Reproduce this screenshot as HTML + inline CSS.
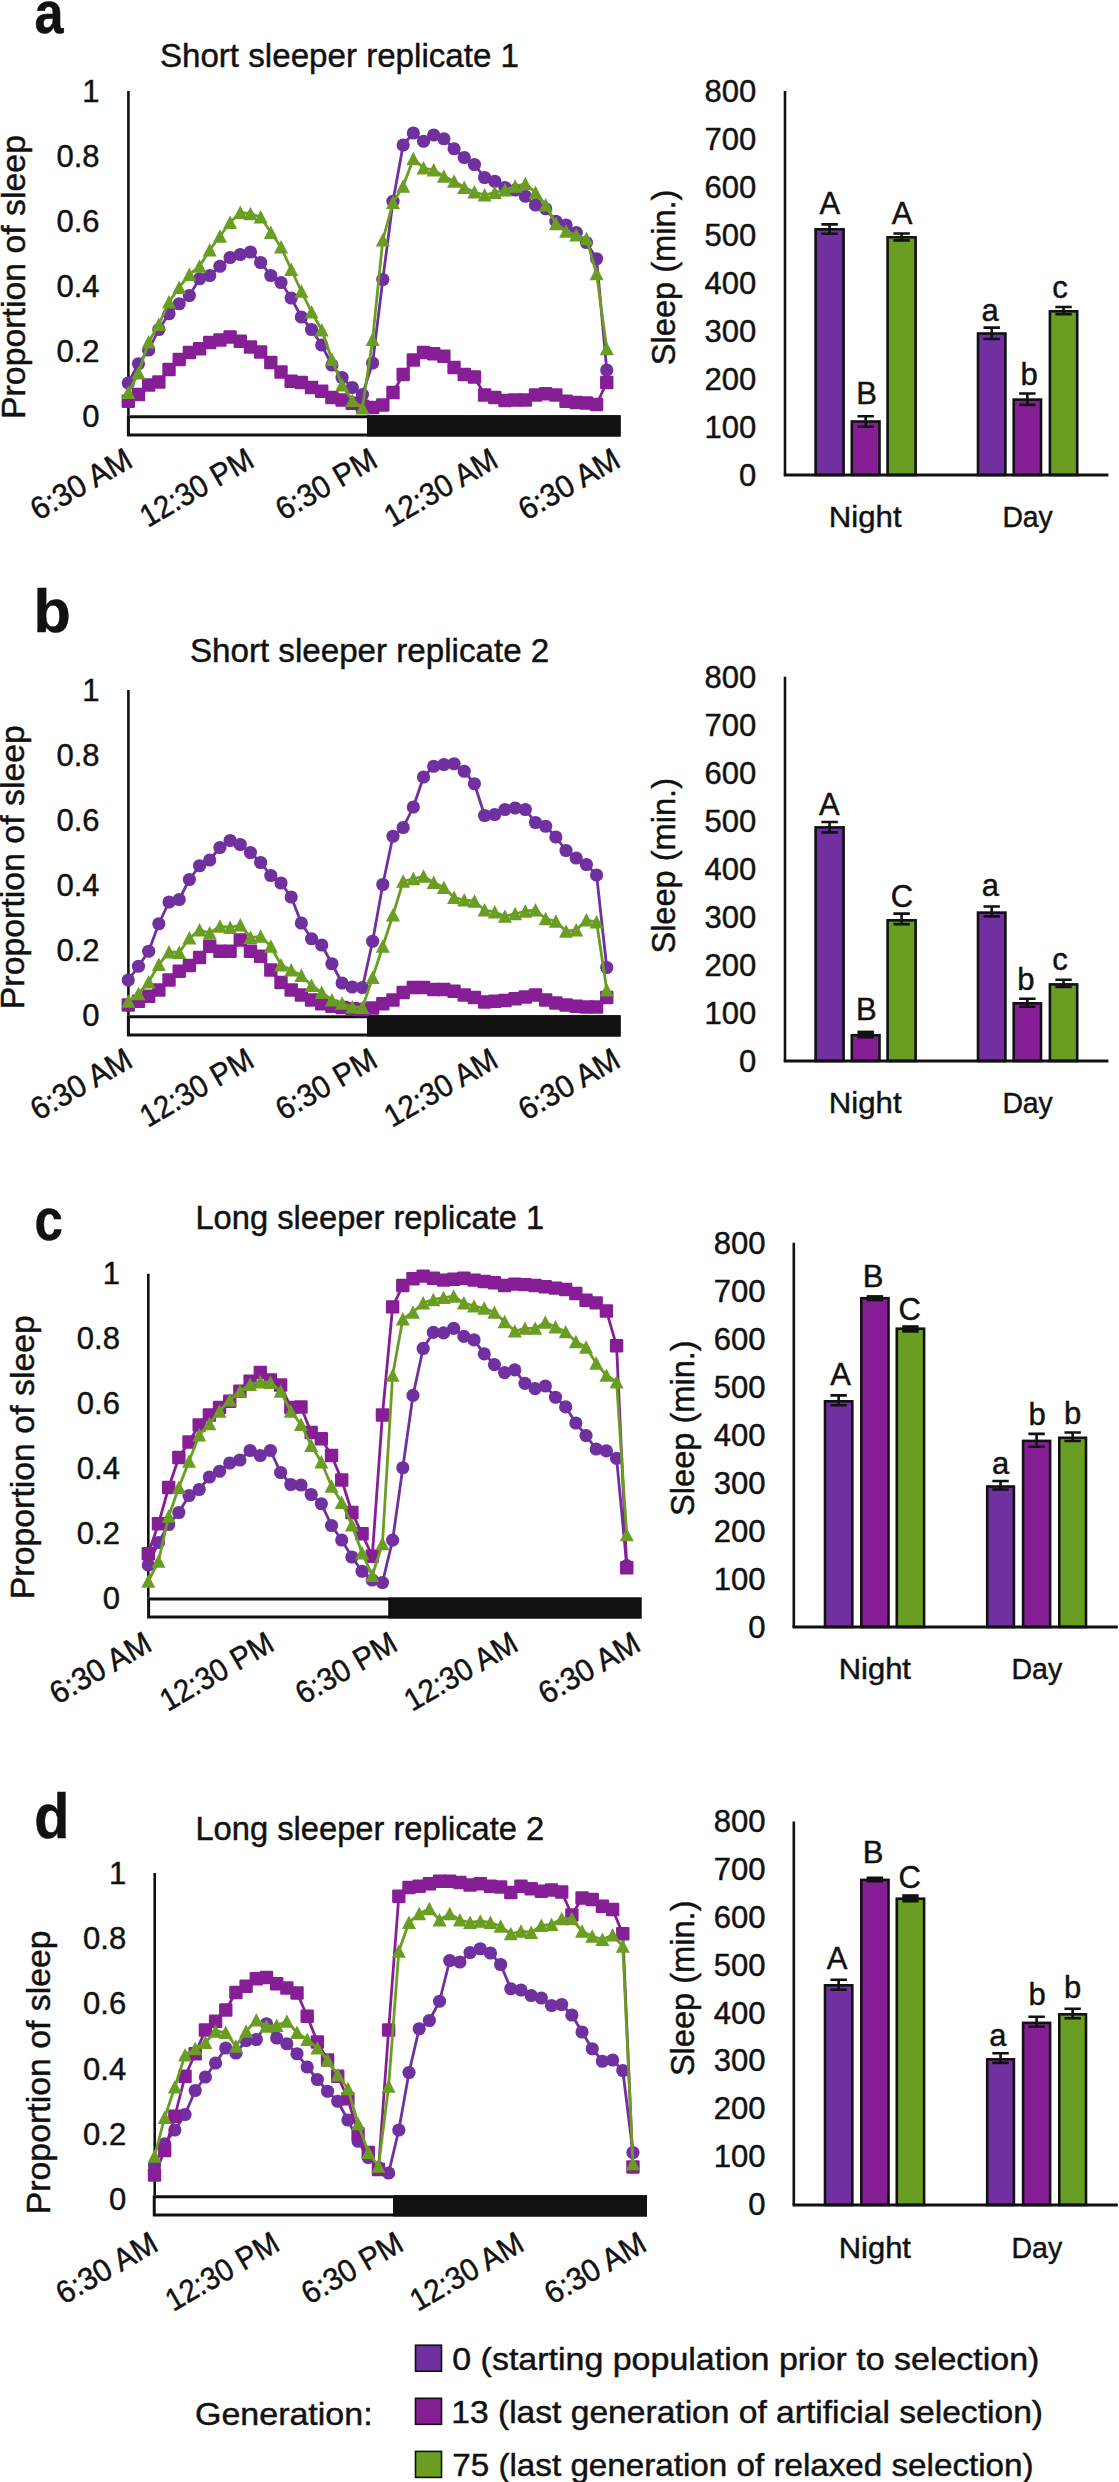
<!DOCTYPE html>
<html><head><meta charset="utf-8"><title>Sleep figure</title>
<style>
html,body{margin:0;padding:0;background:#fff;overflow:hidden;}
svg{display:block;}
text{font-family:"Liberation Sans", sans-serif;fill:#111111;stroke:#111111;stroke-width:0.45px;}
</style></head>
<body>
<svg width="1119" height="2482" viewBox="0 0 1119 2482">
<rect width="1119" height="2482" fill="#fff"/>
<line x1="128.4" y1="90.9" x2="128.4" y2="415.25" stroke="#111111" stroke-width="2.6"/>
<text x="99.60" y="102.40" font-size="31" text-anchor="end">1</text>
<text x="99.60" y="167.40" font-size="31" text-anchor="end">0.8</text>
<text x="99.60" y="232.40" font-size="31" text-anchor="end">0.6</text>
<text x="99.60" y="297.40" font-size="31" text-anchor="end">0.4</text>
<text x="99.60" y="362.40" font-size="31" text-anchor="end">0.2</text>
<text x="99.60" y="427.40" font-size="31" text-anchor="end">0</text>
<rect x="128.40" y="416.75" width="490.70" height="18.25" fill="#fff" stroke="#111111" stroke-width="3.0"/>
<rect x="367.00" y="415.25" width="253.60" height="21.25" fill="#111111"/>
<polyline points="128.30,383.00 138.48,363.75 148.66,350.00 158.84,329.50 169.02,313.75 179.20,303.75 189.38,295.50 199.56,278.75 209.74,275.50 219.92,266.25 230.10,257.50 240.28,254.50 250.46,252.00 260.64,262.50 270.82,275.50 281.00,282.50 291.18,298.00 301.36,317.00 311.54,329.50 321.72,345.00 331.90,365.00 342.08,377.50 352.26,387.50 362.44,394.50 372.62,363.00 382.80,279.50 392.98,201.25 403.16,145.00 413.34,133.00 423.52,141.25 433.70,135.00 443.88,138.75 454.06,148.75 464.24,157.50 474.42,164.50 484.60,177.50 494.78,181.25 504.96,187.50 515.14,190.00 525.32,196.25 535.50,205.00 545.68,208.75 555.86,221.25 566.04,225.00 576.22,232.50 586.40,242.50 596.58,258.75 606.76,370.00" fill="none" stroke="#7030A0" stroke-width="2.8" stroke-linejoin="round"/>
<g fill="#7030A0"><circle cx="128.30" cy="383.00" r="6.60"/><circle cx="138.48" cy="363.75" r="6.60"/><circle cx="148.66" cy="350.00" r="6.60"/><circle cx="158.84" cy="329.50" r="6.60"/><circle cx="169.02" cy="313.75" r="6.60"/><circle cx="179.20" cy="303.75" r="6.60"/><circle cx="189.38" cy="295.50" r="6.60"/><circle cx="199.56" cy="278.75" r="6.60"/><circle cx="209.74" cy="275.50" r="6.60"/><circle cx="219.92" cy="266.25" r="6.60"/><circle cx="230.10" cy="257.50" r="6.60"/><circle cx="240.28" cy="254.50" r="6.60"/><circle cx="250.46" cy="252.00" r="6.60"/><circle cx="260.64" cy="262.50" r="6.60"/><circle cx="270.82" cy="275.50" r="6.60"/><circle cx="281.00" cy="282.50" r="6.60"/><circle cx="291.18" cy="298.00" r="6.60"/><circle cx="301.36" cy="317.00" r="6.60"/><circle cx="311.54" cy="329.50" r="6.60"/><circle cx="321.72" cy="345.00" r="6.60"/><circle cx="331.90" cy="365.00" r="6.60"/><circle cx="342.08" cy="377.50" r="6.60"/><circle cx="352.26" cy="387.50" r="6.60"/><circle cx="362.44" cy="394.50" r="6.60"/><circle cx="372.62" cy="363.00" r="6.60"/><circle cx="382.80" cy="279.50" r="6.60"/><circle cx="392.98" cy="201.25" r="6.60"/><circle cx="403.16" cy="145.00" r="6.60"/><circle cx="413.34" cy="133.00" r="6.60"/><circle cx="423.52" cy="141.25" r="6.60"/><circle cx="433.70" cy="135.00" r="6.60"/><circle cx="443.88" cy="138.75" r="6.60"/><circle cx="454.06" cy="148.75" r="6.60"/><circle cx="464.24" cy="157.50" r="6.60"/><circle cx="474.42" cy="164.50" r="6.60"/><circle cx="484.60" cy="177.50" r="6.60"/><circle cx="494.78" cy="181.25" r="6.60"/><circle cx="504.96" cy="187.50" r="6.60"/><circle cx="515.14" cy="190.00" r="6.60"/><circle cx="525.32" cy="196.25" r="6.60"/><circle cx="535.50" cy="205.00" r="6.60"/><circle cx="545.68" cy="208.75" r="6.60"/><circle cx="555.86" cy="221.25" r="6.60"/><circle cx="566.04" cy="225.00" r="6.60"/><circle cx="576.22" cy="232.50" r="6.60"/><circle cx="586.40" cy="242.50" r="6.60"/><circle cx="596.58" cy="258.75" r="6.60"/><circle cx="606.76" cy="370.00" r="6.60"/></g>
<polyline points="128.30,401.25 138.48,394.50 148.66,385.00 158.84,382.00 169.02,369.50 179.20,359.50 189.38,352.50 199.56,348.75 209.74,342.50 219.92,340.00 230.10,337.00 240.28,341.25 250.46,347.00 260.64,352.00 270.82,362.50 281.00,372.00 291.18,381.25 301.36,382.50 311.54,387.50 321.72,391.25 331.90,397.50 342.08,400.00 352.26,403.25 362.44,406.25 372.62,407.50 382.80,405.00 392.98,392.50 403.16,374.50 413.34,360.00 423.52,352.50 433.70,353.75 443.88,356.25 454.06,367.50 464.24,374.50 474.42,377.00 484.60,395.00 494.78,397.50 504.96,400.50 515.14,400.00 525.32,400.00 535.50,395.00 545.68,393.75 555.86,395.00 566.04,401.25 576.22,402.50 586.40,403.00 596.58,404.50 606.76,382.50" fill="none" stroke="#861F96" stroke-width="2.8" stroke-linejoin="round"/>
<g fill="#861F96"><rect x="121.60" y="394.55" width="13.4" height="13.4" rx="1.2"/><rect x="131.78" y="387.80" width="13.4" height="13.4" rx="1.2"/><rect x="141.96" y="378.30" width="13.4" height="13.4" rx="1.2"/><rect x="152.14" y="375.30" width="13.4" height="13.4" rx="1.2"/><rect x="162.32" y="362.80" width="13.4" height="13.4" rx="1.2"/><rect x="172.50" y="352.80" width="13.4" height="13.4" rx="1.2"/><rect x="182.68" y="345.80" width="13.4" height="13.4" rx="1.2"/><rect x="192.86" y="342.05" width="13.4" height="13.4" rx="1.2"/><rect x="203.04" y="335.80" width="13.4" height="13.4" rx="1.2"/><rect x="213.22" y="333.30" width="13.4" height="13.4" rx="1.2"/><rect x="223.40" y="330.30" width="13.4" height="13.4" rx="1.2"/><rect x="233.58" y="334.55" width="13.4" height="13.4" rx="1.2"/><rect x="243.76" y="340.30" width="13.4" height="13.4" rx="1.2"/><rect x="253.94" y="345.30" width="13.4" height="13.4" rx="1.2"/><rect x="264.12" y="355.80" width="13.4" height="13.4" rx="1.2"/><rect x="274.30" y="365.30" width="13.4" height="13.4" rx="1.2"/><rect x="284.48" y="374.55" width="13.4" height="13.4" rx="1.2"/><rect x="294.66" y="375.80" width="13.4" height="13.4" rx="1.2"/><rect x="304.84" y="380.80" width="13.4" height="13.4" rx="1.2"/><rect x="315.02" y="384.55" width="13.4" height="13.4" rx="1.2"/><rect x="325.20" y="390.80" width="13.4" height="13.4" rx="1.2"/><rect x="335.38" y="393.30" width="13.4" height="13.4" rx="1.2"/><rect x="345.56" y="396.55" width="13.4" height="13.4" rx="1.2"/><rect x="355.74" y="399.55" width="13.4" height="13.4" rx="1.2"/><rect x="365.92" y="400.80" width="13.4" height="13.4" rx="1.2"/><rect x="376.10" y="398.30" width="13.4" height="13.4" rx="1.2"/><rect x="386.28" y="385.80" width="13.4" height="13.4" rx="1.2"/><rect x="396.46" y="367.80" width="13.4" height="13.4" rx="1.2"/><rect x="406.64" y="353.30" width="13.4" height="13.4" rx="1.2"/><rect x="416.82" y="345.80" width="13.4" height="13.4" rx="1.2"/><rect x="427.00" y="347.05" width="13.4" height="13.4" rx="1.2"/><rect x="437.18" y="349.55" width="13.4" height="13.4" rx="1.2"/><rect x="447.36" y="360.80" width="13.4" height="13.4" rx="1.2"/><rect x="457.54" y="367.80" width="13.4" height="13.4" rx="1.2"/><rect x="467.72" y="370.30" width="13.4" height="13.4" rx="1.2"/><rect x="477.90" y="388.30" width="13.4" height="13.4" rx="1.2"/><rect x="488.08" y="390.80" width="13.4" height="13.4" rx="1.2"/><rect x="498.26" y="393.80" width="13.4" height="13.4" rx="1.2"/><rect x="508.44" y="393.30" width="13.4" height="13.4" rx="1.2"/><rect x="518.62" y="393.30" width="13.4" height="13.4" rx="1.2"/><rect x="528.80" y="388.30" width="13.4" height="13.4" rx="1.2"/><rect x="538.98" y="387.05" width="13.4" height="13.4" rx="1.2"/><rect x="549.16" y="388.30" width="13.4" height="13.4" rx="1.2"/><rect x="559.34" y="394.55" width="13.4" height="13.4" rx="1.2"/><rect x="569.52" y="395.80" width="13.4" height="13.4" rx="1.2"/><rect x="579.70" y="396.30" width="13.4" height="13.4" rx="1.2"/><rect x="589.88" y="397.80" width="13.4" height="13.4" rx="1.2"/><rect x="600.06" y="375.80" width="13.4" height="13.4" rx="1.2"/></g>
<polyline points="128.30,392.50 138.48,373.00 148.66,342.00 158.84,324.50 169.02,302.00 179.20,287.50 189.38,274.50 199.56,266.25 209.74,250.00 219.92,236.25 230.10,222.50 240.28,212.50 250.46,213.75 260.64,217.00 270.82,232.50 281.00,247.00 291.18,269.50 301.36,291.25 311.54,312.00 321.72,330.00 331.90,359.50 342.08,385.00 352.26,400.50 362.44,408.00 372.62,339.50 382.80,240.00 392.98,202.50 403.16,186.25 413.34,158.75 423.52,168.00 433.70,170.00 443.88,176.25 454.06,181.25 464.24,187.50 474.42,192.00 484.60,195.00 494.78,192.50 504.96,190.00 515.14,186.25 525.32,183.75 535.50,192.50 545.68,205.00 555.86,223.75 566.04,231.25 576.22,235.00 586.40,238.75 596.58,273.75 606.76,348.75" fill="none" stroke="#6A9E23" stroke-width="2.8" stroke-linejoin="round"/>
<g fill="#6A9E23"><path d="M128.30,385.60L135.30,399.00L121.30,399.00Z"/><path d="M138.48,366.10L145.48,379.50L131.48,379.50Z"/><path d="M148.66,335.10L155.66,348.50L141.66,348.50Z"/><path d="M158.84,317.60L165.84,331.00L151.84,331.00Z"/><path d="M169.02,295.10L176.02,308.50L162.02,308.50Z"/><path d="M179.20,280.60L186.20,294.00L172.20,294.00Z"/><path d="M189.38,267.60L196.38,281.00L182.38,281.00Z"/><path d="M199.56,259.35L206.56,272.75L192.56,272.75Z"/><path d="M209.74,243.10L216.74,256.50L202.74,256.50Z"/><path d="M219.92,229.35L226.92,242.75L212.92,242.75Z"/><path d="M230.10,215.60L237.10,229.00L223.10,229.00Z"/><path d="M240.28,205.60L247.28,219.00L233.28,219.00Z"/><path d="M250.46,206.85L257.46,220.25L243.46,220.25Z"/><path d="M260.64,210.10L267.64,223.50L253.64,223.50Z"/><path d="M270.82,225.60L277.82,239.00L263.82,239.00Z"/><path d="M281.00,240.10L288.00,253.50L274.00,253.50Z"/><path d="M291.18,262.60L298.18,276.00L284.18,276.00Z"/><path d="M301.36,284.35L308.36,297.75L294.36,297.75Z"/><path d="M311.54,305.10L318.54,318.50L304.54,318.50Z"/><path d="M321.72,323.10L328.72,336.50L314.72,336.50Z"/><path d="M331.90,352.60L338.90,366.00L324.90,366.00Z"/><path d="M342.08,378.10L349.08,391.50L335.08,391.50Z"/><path d="M352.26,393.60L359.26,407.00L345.26,407.00Z"/><path d="M362.44,401.10L369.44,414.50L355.44,414.50Z"/><path d="M372.62,332.60L379.62,346.00L365.62,346.00Z"/><path d="M382.80,233.10L389.80,246.50L375.80,246.50Z"/><path d="M392.98,195.60L399.98,209.00L385.98,209.00Z"/><path d="M403.16,179.35L410.16,192.75L396.16,192.75Z"/><path d="M413.34,151.85L420.34,165.25L406.34,165.25Z"/><path d="M423.52,161.10L430.52,174.50L416.52,174.50Z"/><path d="M433.70,163.10L440.70,176.50L426.70,176.50Z"/><path d="M443.88,169.35L450.88,182.75L436.88,182.75Z"/><path d="M454.06,174.35L461.06,187.75L447.06,187.75Z"/><path d="M464.24,180.60L471.24,194.00L457.24,194.00Z"/><path d="M474.42,185.10L481.42,198.50L467.42,198.50Z"/><path d="M484.60,188.10L491.60,201.50L477.60,201.50Z"/><path d="M494.78,185.60L501.78,199.00L487.78,199.00Z"/><path d="M504.96,183.10L511.96,196.50L497.96,196.50Z"/><path d="M515.14,179.35L522.14,192.75L508.14,192.75Z"/><path d="M525.32,176.85L532.32,190.25L518.32,190.25Z"/><path d="M535.50,185.60L542.50,199.00L528.50,199.00Z"/><path d="M545.68,198.10L552.68,211.50L538.68,211.50Z"/><path d="M555.86,216.85L562.86,230.25L548.86,230.25Z"/><path d="M566.04,224.35L573.04,237.75L559.04,237.75Z"/><path d="M576.22,228.10L583.22,241.50L569.22,241.50Z"/><path d="M586.40,231.85L593.40,245.25L579.40,245.25Z"/><path d="M596.58,266.85L603.58,280.25L589.58,280.25Z"/><path d="M606.76,341.85L613.76,355.25L599.76,355.25Z"/></g>
<text x="134.50" y="465.60" font-size="31.5" text-anchor="end" textLength="111.00" lengthAdjust="spacingAndGlyphs" transform="rotate(-30 134.50 465.60)">6:30 AM</text>
<text x="256.00" y="465.60" font-size="31.5" text-anchor="end" textLength="125.00" lengthAdjust="spacingAndGlyphs" transform="rotate(-30 256.00 465.60)">12:30 PM</text>
<text x="379.60" y="465.60" font-size="31.5" text-anchor="end" textLength="111.00" lengthAdjust="spacingAndGlyphs" transform="rotate(-30 379.60 465.60)">6:30 PM</text>
<text x="500.20" y="465.60" font-size="31.5" text-anchor="end" textLength="125.00" lengthAdjust="spacingAndGlyphs" transform="rotate(-30 500.20 465.60)">12:30 AM</text>
<text x="622.40" y="465.60" font-size="31.5" text-anchor="end" textLength="111.00" lengthAdjust="spacingAndGlyphs" transform="rotate(-30 622.40 465.60)">6:30 AM</text>
<text x="24.70" y="419.00" font-size="34" text-anchor="start" textLength="284.00" lengthAdjust="spacingAndGlyphs" transform="rotate(-90 24.70 419.00)">Proportion of sleep</text>
<text x="159.90" y="67.00" font-size="33" text-anchor="start" textLength="359.10" lengthAdjust="spacingAndGlyphs">Short sleeper replicate 1</text>
<line x1="128.4" y1="690" x2="128.4" y2="1015.25" stroke="#111111" stroke-width="2.6"/>
<text x="99.60" y="700.90" font-size="31" text-anchor="end">1</text>
<text x="99.60" y="765.90" font-size="31" text-anchor="end">0.8</text>
<text x="99.60" y="830.90" font-size="31" text-anchor="end">0.6</text>
<text x="99.60" y="895.90" font-size="31" text-anchor="end">0.4</text>
<text x="99.60" y="960.90" font-size="31" text-anchor="end">0.2</text>
<text x="99.60" y="1025.90" font-size="31" text-anchor="end">0</text>
<rect x="128.40" y="1016.75" width="490.70" height="18.25" fill="#fff" stroke="#111111" stroke-width="3.0"/>
<rect x="367.00" y="1015.25" width="253.60" height="21.25" fill="#111111"/>
<polyline points="128.30,980.00 138.48,966.25 148.66,951.25 158.84,923.75 169.02,902.00 179.20,899.50 189.38,879.50 199.56,865.75 209.74,860.00 219.92,847.50 230.10,840.50 240.28,844.50 250.46,852.50 260.64,862.50 270.82,875.50 281.00,883.00 291.18,897.00 301.36,923.00 311.54,938.75 321.72,945.00 331.90,963.75 342.08,983.00 352.26,987.00 362.44,987.50 372.62,941.25 382.80,884.50 392.98,836.25 403.16,827.50 413.34,807.00 423.52,777.00 433.70,766.25 443.88,764.50 454.06,763.75 464.24,771.25 474.42,783.75 484.60,815.50 494.78,814.50 504.96,809.50 515.14,808.00 525.32,809.50 535.50,822.50 545.68,826.25 555.86,837.00 566.04,850.50 576.22,858.00 586.40,864.50 596.58,875.00 606.76,967.50" fill="none" stroke="#7030A0" stroke-width="2.8" stroke-linejoin="round"/>
<g fill="#7030A0"><circle cx="128.30" cy="980.00" r="6.60"/><circle cx="138.48" cy="966.25" r="6.60"/><circle cx="148.66" cy="951.25" r="6.60"/><circle cx="158.84" cy="923.75" r="6.60"/><circle cx="169.02" cy="902.00" r="6.60"/><circle cx="179.20" cy="899.50" r="6.60"/><circle cx="189.38" cy="879.50" r="6.60"/><circle cx="199.56" cy="865.75" r="6.60"/><circle cx="209.74" cy="860.00" r="6.60"/><circle cx="219.92" cy="847.50" r="6.60"/><circle cx="230.10" cy="840.50" r="6.60"/><circle cx="240.28" cy="844.50" r="6.60"/><circle cx="250.46" cy="852.50" r="6.60"/><circle cx="260.64" cy="862.50" r="6.60"/><circle cx="270.82" cy="875.50" r="6.60"/><circle cx="281.00" cy="883.00" r="6.60"/><circle cx="291.18" cy="897.00" r="6.60"/><circle cx="301.36" cy="923.00" r="6.60"/><circle cx="311.54" cy="938.75" r="6.60"/><circle cx="321.72" cy="945.00" r="6.60"/><circle cx="331.90" cy="963.75" r="6.60"/><circle cx="342.08" cy="983.00" r="6.60"/><circle cx="352.26" cy="987.00" r="6.60"/><circle cx="362.44" cy="987.50" r="6.60"/><circle cx="372.62" cy="941.25" r="6.60"/><circle cx="382.80" cy="884.50" r="6.60"/><circle cx="392.98" cy="836.25" r="6.60"/><circle cx="403.16" cy="827.50" r="6.60"/><circle cx="413.34" cy="807.00" r="6.60"/><circle cx="423.52" cy="777.00" r="6.60"/><circle cx="433.70" cy="766.25" r="6.60"/><circle cx="443.88" cy="764.50" r="6.60"/><circle cx="454.06" cy="763.75" r="6.60"/><circle cx="464.24" cy="771.25" r="6.60"/><circle cx="474.42" cy="783.75" r="6.60"/><circle cx="484.60" cy="815.50" r="6.60"/><circle cx="494.78" cy="814.50" r="6.60"/><circle cx="504.96" cy="809.50" r="6.60"/><circle cx="515.14" cy="808.00" r="6.60"/><circle cx="525.32" cy="809.50" r="6.60"/><circle cx="535.50" cy="822.50" r="6.60"/><circle cx="545.68" cy="826.25" r="6.60"/><circle cx="555.86" cy="837.00" r="6.60"/><circle cx="566.04" cy="850.50" r="6.60"/><circle cx="576.22" cy="858.00" r="6.60"/><circle cx="586.40" cy="864.50" r="6.60"/><circle cx="596.58" cy="875.00" r="6.60"/><circle cx="606.76" cy="967.50" r="6.60"/></g>
<polyline points="128.30,1005.00 138.48,1001.25 148.66,996.25 158.84,990.00 169.02,980.00 179.20,971.25 189.38,965.50 199.56,957.50 209.74,946.25 219.92,951.25 230.10,951.25 240.28,940.00 250.46,951.25 260.64,956.25 270.82,970.00 281.00,982.50 291.18,990.00 301.36,995.00 311.54,1000.00 321.72,1003.75 331.90,1006.25 342.08,1007.50 352.26,1008.75 362.44,1009.50 372.62,1008.00 382.80,1003.75 392.98,1000.00 403.16,992.50 413.34,987.50 423.52,987.50 433.70,989.50 443.88,989.50 454.06,991.25 464.24,995.00 474.42,997.50 484.60,1002.00 494.78,1001.25 504.96,1000.50 515.14,998.75 525.32,997.00 535.50,995.00 545.68,1000.00 555.86,1003.00 566.04,1005.00 576.22,1006.25 586.40,1007.00 596.58,1007.00 606.76,997.50" fill="none" stroke="#861F96" stroke-width="2.8" stroke-linejoin="round"/>
<g fill="#861F96"><rect x="121.60" y="998.30" width="13.4" height="13.4" rx="1.2"/><rect x="131.78" y="994.55" width="13.4" height="13.4" rx="1.2"/><rect x="141.96" y="989.55" width="13.4" height="13.4" rx="1.2"/><rect x="152.14" y="983.30" width="13.4" height="13.4" rx="1.2"/><rect x="162.32" y="973.30" width="13.4" height="13.4" rx="1.2"/><rect x="172.50" y="964.55" width="13.4" height="13.4" rx="1.2"/><rect x="182.68" y="958.80" width="13.4" height="13.4" rx="1.2"/><rect x="192.86" y="950.80" width="13.4" height="13.4" rx="1.2"/><rect x="203.04" y="939.55" width="13.4" height="13.4" rx="1.2"/><rect x="213.22" y="944.55" width="13.4" height="13.4" rx="1.2"/><rect x="223.40" y="944.55" width="13.4" height="13.4" rx="1.2"/><rect x="233.58" y="933.30" width="13.4" height="13.4" rx="1.2"/><rect x="243.76" y="944.55" width="13.4" height="13.4" rx="1.2"/><rect x="253.94" y="949.55" width="13.4" height="13.4" rx="1.2"/><rect x="264.12" y="963.30" width="13.4" height="13.4" rx="1.2"/><rect x="274.30" y="975.80" width="13.4" height="13.4" rx="1.2"/><rect x="284.48" y="983.30" width="13.4" height="13.4" rx="1.2"/><rect x="294.66" y="988.30" width="13.4" height="13.4" rx="1.2"/><rect x="304.84" y="993.30" width="13.4" height="13.4" rx="1.2"/><rect x="315.02" y="997.05" width="13.4" height="13.4" rx="1.2"/><rect x="325.20" y="999.55" width="13.4" height="13.4" rx="1.2"/><rect x="335.38" y="1000.80" width="13.4" height="13.4" rx="1.2"/><rect x="345.56" y="1002.05" width="13.4" height="13.4" rx="1.2"/><rect x="355.74" y="1002.80" width="13.4" height="13.4" rx="1.2"/><rect x="365.92" y="1001.30" width="13.4" height="13.4" rx="1.2"/><rect x="376.10" y="997.05" width="13.4" height="13.4" rx="1.2"/><rect x="386.28" y="993.30" width="13.4" height="13.4" rx="1.2"/><rect x="396.46" y="985.80" width="13.4" height="13.4" rx="1.2"/><rect x="406.64" y="980.80" width="13.4" height="13.4" rx="1.2"/><rect x="416.82" y="980.80" width="13.4" height="13.4" rx="1.2"/><rect x="427.00" y="982.80" width="13.4" height="13.4" rx="1.2"/><rect x="437.18" y="982.80" width="13.4" height="13.4" rx="1.2"/><rect x="447.36" y="984.55" width="13.4" height="13.4" rx="1.2"/><rect x="457.54" y="988.30" width="13.4" height="13.4" rx="1.2"/><rect x="467.72" y="990.80" width="13.4" height="13.4" rx="1.2"/><rect x="477.90" y="995.30" width="13.4" height="13.4" rx="1.2"/><rect x="488.08" y="994.55" width="13.4" height="13.4" rx="1.2"/><rect x="498.26" y="993.80" width="13.4" height="13.4" rx="1.2"/><rect x="508.44" y="992.05" width="13.4" height="13.4" rx="1.2"/><rect x="518.62" y="990.30" width="13.4" height="13.4" rx="1.2"/><rect x="528.80" y="988.30" width="13.4" height="13.4" rx="1.2"/><rect x="538.98" y="993.30" width="13.4" height="13.4" rx="1.2"/><rect x="549.16" y="996.30" width="13.4" height="13.4" rx="1.2"/><rect x="559.34" y="998.30" width="13.4" height="13.4" rx="1.2"/><rect x="569.52" y="999.55" width="13.4" height="13.4" rx="1.2"/><rect x="579.70" y="1000.30" width="13.4" height="13.4" rx="1.2"/><rect x="589.88" y="1000.30" width="13.4" height="13.4" rx="1.2"/><rect x="600.06" y="990.80" width="13.4" height="13.4" rx="1.2"/></g>
<polyline points="128.30,1001.25 138.48,993.75 148.66,982.00 158.84,964.50 169.02,952.00 179.20,952.50 189.38,938.00 199.56,930.00 209.74,933.00 219.92,926.25 230.10,927.50 240.28,925.00 250.46,937.50 260.64,936.25 270.82,946.25 281.00,965.00 291.18,970.00 301.36,975.50 311.54,985.50 321.72,992.50 331.90,1000.00 342.08,1003.25 352.26,1007.00 362.44,1007.50 372.62,977.50 382.80,946.25 392.98,915.00 403.16,881.25 413.34,878.75 423.52,876.25 433.70,882.50 443.88,887.50 454.06,897.50 464.24,900.00 474.42,901.25 484.60,910.00 494.78,912.00 504.96,916.25 515.14,913.75 525.32,911.25 535.50,910.00 545.68,918.75 555.86,921.25 566.04,931.25 576.22,930.00 586.40,920.00 596.58,922.00 606.76,990.00" fill="none" stroke="#6A9E23" stroke-width="2.8" stroke-linejoin="round"/>
<g fill="#6A9E23"><path d="M128.30,994.35L135.30,1007.75L121.30,1007.75Z"/><path d="M138.48,986.85L145.48,1000.25L131.48,1000.25Z"/><path d="M148.66,975.10L155.66,988.50L141.66,988.50Z"/><path d="M158.84,957.60L165.84,971.00L151.84,971.00Z"/><path d="M169.02,945.10L176.02,958.50L162.02,958.50Z"/><path d="M179.20,945.60L186.20,959.00L172.20,959.00Z"/><path d="M189.38,931.10L196.38,944.50L182.38,944.50Z"/><path d="M199.56,923.10L206.56,936.50L192.56,936.50Z"/><path d="M209.74,926.10L216.74,939.50L202.74,939.50Z"/><path d="M219.92,919.35L226.92,932.75L212.92,932.75Z"/><path d="M230.10,920.60L237.10,934.00L223.10,934.00Z"/><path d="M240.28,918.10L247.28,931.50L233.28,931.50Z"/><path d="M250.46,930.60L257.46,944.00L243.46,944.00Z"/><path d="M260.64,929.35L267.64,942.75L253.64,942.75Z"/><path d="M270.82,939.35L277.82,952.75L263.82,952.75Z"/><path d="M281.00,958.10L288.00,971.50L274.00,971.50Z"/><path d="M291.18,963.10L298.18,976.50L284.18,976.50Z"/><path d="M301.36,968.60L308.36,982.00L294.36,982.00Z"/><path d="M311.54,978.60L318.54,992.00L304.54,992.00Z"/><path d="M321.72,985.60L328.72,999.00L314.72,999.00Z"/><path d="M331.90,993.10L338.90,1006.50L324.90,1006.50Z"/><path d="M342.08,996.35L349.08,1009.75L335.08,1009.75Z"/><path d="M352.26,1000.10L359.26,1013.50L345.26,1013.50Z"/><path d="M362.44,1000.60L369.44,1014.00L355.44,1014.00Z"/><path d="M372.62,970.60L379.62,984.00L365.62,984.00Z"/><path d="M382.80,939.35L389.80,952.75L375.80,952.75Z"/><path d="M392.98,908.10L399.98,921.50L385.98,921.50Z"/><path d="M403.16,874.35L410.16,887.75L396.16,887.75Z"/><path d="M413.34,871.85L420.34,885.25L406.34,885.25Z"/><path d="M423.52,869.35L430.52,882.75L416.52,882.75Z"/><path d="M433.70,875.60L440.70,889.00L426.70,889.00Z"/><path d="M443.88,880.60L450.88,894.00L436.88,894.00Z"/><path d="M454.06,890.60L461.06,904.00L447.06,904.00Z"/><path d="M464.24,893.10L471.24,906.50L457.24,906.50Z"/><path d="M474.42,894.35L481.42,907.75L467.42,907.75Z"/><path d="M484.60,903.10L491.60,916.50L477.60,916.50Z"/><path d="M494.78,905.10L501.78,918.50L487.78,918.50Z"/><path d="M504.96,909.35L511.96,922.75L497.96,922.75Z"/><path d="M515.14,906.85L522.14,920.25L508.14,920.25Z"/><path d="M525.32,904.35L532.32,917.75L518.32,917.75Z"/><path d="M535.50,903.10L542.50,916.50L528.50,916.50Z"/><path d="M545.68,911.85L552.68,925.25L538.68,925.25Z"/><path d="M555.86,914.35L562.86,927.75L548.86,927.75Z"/><path d="M566.04,924.35L573.04,937.75L559.04,937.75Z"/><path d="M576.22,923.10L583.22,936.50L569.22,936.50Z"/><path d="M586.40,913.10L593.40,926.50L579.40,926.50Z"/><path d="M596.58,915.10L603.58,928.50L589.58,928.50Z"/><path d="M606.76,983.10L613.76,996.50L599.76,996.50Z"/></g>
<text x="134.50" y="1065.60" font-size="31.5" text-anchor="end" textLength="111.00" lengthAdjust="spacingAndGlyphs" transform="rotate(-30 134.50 1065.60)">6:30 AM</text>
<text x="256.00" y="1065.60" font-size="31.5" text-anchor="end" textLength="125.00" lengthAdjust="spacingAndGlyphs" transform="rotate(-30 256.00 1065.60)">12:30 PM</text>
<text x="379.60" y="1065.60" font-size="31.5" text-anchor="end" textLength="111.00" lengthAdjust="spacingAndGlyphs" transform="rotate(-30 379.60 1065.60)">6:30 PM</text>
<text x="500.20" y="1065.60" font-size="31.5" text-anchor="end" textLength="125.00" lengthAdjust="spacingAndGlyphs" transform="rotate(-30 500.20 1065.60)">12:30 AM</text>
<text x="622.40" y="1065.60" font-size="31.5" text-anchor="end" textLength="111.00" lengthAdjust="spacingAndGlyphs" transform="rotate(-30 622.40 1065.60)">6:30 AM</text>
<text x="24.50" y="1009.20" font-size="34" text-anchor="start" textLength="284.10" lengthAdjust="spacingAndGlyphs" transform="rotate(-90 24.50 1009.20)">Proportion of sleep</text>
<text x="189.90" y="661.50" font-size="33" text-anchor="start" textLength="359.35" lengthAdjust="spacingAndGlyphs">Short sleeper replicate 2</text>
<line x1="148.3" y1="1273.75" x2="148.3" y2="1597.5" stroke="#111111" stroke-width="2.6"/>
<text x="119.95" y="1284.30" font-size="31" text-anchor="end">1</text>
<text x="119.95" y="1349.30" font-size="31" text-anchor="end">0.8</text>
<text x="119.95" y="1414.30" font-size="31" text-anchor="end">0.6</text>
<text x="119.95" y="1479.30" font-size="31" text-anchor="end">0.4</text>
<text x="119.95" y="1544.30" font-size="31" text-anchor="end">0.2</text>
<text x="119.95" y="1609.30" font-size="31" text-anchor="end">0</text>
<rect x="148.60" y="1599.00" width="491.40" height="18.00" fill="#fff" stroke="#111111" stroke-width="3.0"/>
<rect x="388.20" y="1597.50" width="253.30" height="21.00" fill="#111111"/>
<polyline points="148.30,1565.00 158.48,1542.50 168.66,1524.50 178.84,1512.50 189.02,1495.50 199.20,1489.50 209.38,1477.00 219.56,1471.25 229.74,1463.00 239.92,1460.00 250.10,1450.50 260.28,1455.50 270.46,1450.50 280.64,1472.50 290.82,1484.50 301.00,1485.00 311.18,1494.50 321.36,1503.75 331.54,1525.50 341.72,1540.00 351.90,1557.00 362.08,1571.25 372.26,1580.00 382.44,1582.50 392.62,1540.16 402.80,1467.77 412.98,1395.39 423.16,1348.47 433.34,1332.39 443.52,1332.92 453.70,1328.36 463.88,1336.41 474.06,1339.89 484.24,1353.83 494.42,1364.56 504.60,1372.60 514.78,1369.92 524.96,1383.32 535.14,1388.69 545.32,1386.01 555.50,1397.27 565.68,1406.92 575.86,1423.00 586.04,1435.60 596.22,1449.01 606.40,1450.88 616.58,1458.39 626.76,1565.63" fill="none" stroke="#7030A0" stroke-width="2.8" stroke-linejoin="round"/>
<g fill="#7030A0"><circle cx="148.30" cy="1565.00" r="6.60"/><circle cx="158.48" cy="1542.50" r="6.60"/><circle cx="168.66" cy="1524.50" r="6.60"/><circle cx="178.84" cy="1512.50" r="6.60"/><circle cx="189.02" cy="1495.50" r="6.60"/><circle cx="199.20" cy="1489.50" r="6.60"/><circle cx="209.38" cy="1477.00" r="6.60"/><circle cx="219.56" cy="1471.25" r="6.60"/><circle cx="229.74" cy="1463.00" r="6.60"/><circle cx="239.92" cy="1460.00" r="6.60"/><circle cx="250.10" cy="1450.50" r="6.60"/><circle cx="260.28" cy="1455.50" r="6.60"/><circle cx="270.46" cy="1450.50" r="6.60"/><circle cx="280.64" cy="1472.50" r="6.60"/><circle cx="290.82" cy="1484.50" r="6.60"/><circle cx="301.00" cy="1485.00" r="6.60"/><circle cx="311.18" cy="1494.50" r="6.60"/><circle cx="321.36" cy="1503.75" r="6.60"/><circle cx="331.54" cy="1525.50" r="6.60"/><circle cx="341.72" cy="1540.00" r="6.60"/><circle cx="351.90" cy="1557.00" r="6.60"/><circle cx="362.08" cy="1571.25" r="6.60"/><circle cx="372.26" cy="1580.00" r="6.60"/><circle cx="382.44" cy="1582.50" r="6.60"/><circle cx="392.62" cy="1540.16" r="6.60"/><circle cx="402.80" cy="1467.77" r="6.60"/><circle cx="412.98" cy="1395.39" r="6.60"/><circle cx="423.16" cy="1348.47" r="6.60"/><circle cx="433.34" cy="1332.39" r="6.60"/><circle cx="443.52" cy="1332.92" r="6.60"/><circle cx="453.70" cy="1328.36" r="6.60"/><circle cx="463.88" cy="1336.41" r="6.60"/><circle cx="474.06" cy="1339.89" r="6.60"/><circle cx="484.24" cy="1353.83" r="6.60"/><circle cx="494.42" cy="1364.56" r="6.60"/><circle cx="504.60" cy="1372.60" r="6.60"/><circle cx="514.78" cy="1369.92" r="6.60"/><circle cx="524.96" cy="1383.32" r="6.60"/><circle cx="535.14" cy="1388.69" r="6.60"/><circle cx="545.32" cy="1386.01" r="6.60"/><circle cx="555.50" cy="1397.27" r="6.60"/><circle cx="565.68" cy="1406.92" r="6.60"/><circle cx="575.86" cy="1423.00" r="6.60"/><circle cx="586.04" cy="1435.60" r="6.60"/><circle cx="596.22" cy="1449.01" r="6.60"/><circle cx="606.40" cy="1450.88" r="6.60"/><circle cx="616.58" cy="1458.39" r="6.60"/><circle cx="626.76" cy="1565.63" r="6.60"/></g>
<polyline points="148.30,1553.75 158.48,1523.75 168.66,1487.50 178.84,1457.50 189.02,1442.00 199.20,1425.00 209.38,1415.00 219.56,1407.50 229.74,1401.25 239.92,1391.25 250.10,1381.25 260.28,1372.50 270.46,1380.00 280.64,1385.00 290.82,1407.50 301.00,1407.00 311.18,1432.50 321.36,1438.75 331.54,1455.50 341.72,1480.00 351.90,1512.50 362.08,1533.75 372.26,1556.25 382.44,1414.96 392.62,1306.92 402.80,1285.47 412.98,1278.77 423.16,1276.09 433.34,1278.23 443.52,1280.11 453.70,1279.30 463.88,1278.23 474.06,1280.11 484.24,1281.45 494.42,1282.79 504.60,1285.47 514.78,1284.13 524.96,1284.66 535.14,1285.47 545.32,1286.81 555.50,1288.15 565.68,1289.49 575.86,1293.51 586.04,1300.21 596.22,1302.90 606.40,1310.94 616.58,1345.79 626.76,1567.77" fill="none" stroke="#861F96" stroke-width="2.8" stroke-linejoin="round"/>
<g fill="#861F96"><rect x="141.60" y="1547.05" width="13.4" height="13.4" rx="1.2"/><rect x="151.78" y="1517.05" width="13.4" height="13.4" rx="1.2"/><rect x="161.96" y="1480.80" width="13.4" height="13.4" rx="1.2"/><rect x="172.14" y="1450.80" width="13.4" height="13.4" rx="1.2"/><rect x="182.32" y="1435.30" width="13.4" height="13.4" rx="1.2"/><rect x="192.50" y="1418.30" width="13.4" height="13.4" rx="1.2"/><rect x="202.68" y="1408.30" width="13.4" height="13.4" rx="1.2"/><rect x="212.86" y="1400.80" width="13.4" height="13.4" rx="1.2"/><rect x="223.04" y="1394.55" width="13.4" height="13.4" rx="1.2"/><rect x="233.22" y="1384.55" width="13.4" height="13.4" rx="1.2"/><rect x="243.40" y="1374.55" width="13.4" height="13.4" rx="1.2"/><rect x="253.58" y="1365.80" width="13.4" height="13.4" rx="1.2"/><rect x="263.76" y="1373.30" width="13.4" height="13.4" rx="1.2"/><rect x="273.94" y="1378.30" width="13.4" height="13.4" rx="1.2"/><rect x="284.12" y="1400.80" width="13.4" height="13.4" rx="1.2"/><rect x="294.30" y="1400.30" width="13.4" height="13.4" rx="1.2"/><rect x="304.48" y="1425.80" width="13.4" height="13.4" rx="1.2"/><rect x="314.66" y="1432.05" width="13.4" height="13.4" rx="1.2"/><rect x="324.84" y="1448.80" width="13.4" height="13.4" rx="1.2"/><rect x="335.02" y="1473.30" width="13.4" height="13.4" rx="1.2"/><rect x="345.20" y="1505.80" width="13.4" height="13.4" rx="1.2"/><rect x="355.38" y="1527.05" width="13.4" height="13.4" rx="1.2"/><rect x="365.56" y="1549.55" width="13.4" height="13.4" rx="1.2"/><rect x="375.74" y="1408.26" width="13.4" height="13.4" rx="1.2"/><rect x="385.92" y="1300.22" width="13.4" height="13.4" rx="1.2"/><rect x="396.10" y="1278.77" width="13.4" height="13.4" rx="1.2"/><rect x="406.28" y="1272.07" width="13.4" height="13.4" rx="1.2"/><rect x="416.46" y="1269.39" width="13.4" height="13.4" rx="1.2"/><rect x="426.64" y="1271.53" width="13.4" height="13.4" rx="1.2"/><rect x="436.82" y="1273.41" width="13.4" height="13.4" rx="1.2"/><rect x="447.00" y="1272.60" width="13.4" height="13.4" rx="1.2"/><rect x="457.18" y="1271.53" width="13.4" height="13.4" rx="1.2"/><rect x="467.36" y="1273.41" width="13.4" height="13.4" rx="1.2"/><rect x="477.54" y="1274.75" width="13.4" height="13.4" rx="1.2"/><rect x="487.72" y="1276.09" width="13.4" height="13.4" rx="1.2"/><rect x="497.90" y="1278.77" width="13.4" height="13.4" rx="1.2"/><rect x="508.08" y="1277.43" width="13.4" height="13.4" rx="1.2"/><rect x="518.26" y="1277.96" width="13.4" height="13.4" rx="1.2"/><rect x="528.44" y="1278.77" width="13.4" height="13.4" rx="1.2"/><rect x="538.62" y="1280.11" width="13.4" height="13.4" rx="1.2"/><rect x="548.80" y="1281.45" width="13.4" height="13.4" rx="1.2"/><rect x="558.98" y="1282.79" width="13.4" height="13.4" rx="1.2"/><rect x="569.16" y="1286.81" width="13.4" height="13.4" rx="1.2"/><rect x="579.34" y="1293.51" width="13.4" height="13.4" rx="1.2"/><rect x="589.52" y="1296.20" width="13.4" height="13.4" rx="1.2"/><rect x="599.70" y="1304.24" width="13.4" height="13.4" rx="1.2"/><rect x="609.88" y="1339.09" width="13.4" height="13.4" rx="1.2"/><rect x="620.06" y="1561.07" width="13.4" height="13.4" rx="1.2"/></g>
<polyline points="148.30,1581.25 158.48,1561.25 168.66,1516.25 178.84,1487.50 189.02,1461.25 199.20,1435.00 209.38,1423.75 219.56,1411.25 229.74,1400.00 239.92,1391.25 250.10,1384.50 260.28,1382.00 270.46,1382.50 280.64,1391.25 290.82,1411.25 301.00,1424.50 311.18,1445.50 321.36,1462.00 331.54,1486.25 341.72,1502.50 351.90,1525.00 362.08,1553.00 372.26,1575.50 382.44,1543.75 392.62,1375.28 402.80,1318.98 412.98,1312.28 423.16,1302.90 433.34,1299.68 443.52,1297.53 453.70,1296.19 463.88,1302.90 474.06,1306.11 484.24,1308.26 494.42,1312.28 504.60,1321.66 514.78,1331.05 524.96,1328.36 535.14,1328.36 545.32,1322.20 555.50,1327.02 565.68,1331.85 575.86,1341.77 586.04,1347.13 596.22,1363.22 606.40,1375.28 616.58,1381.98 626.76,1534.80" fill="none" stroke="#6A9E23" stroke-width="2.8" stroke-linejoin="round"/>
<g fill="#6A9E23"><path d="M148.30,1574.35L155.30,1587.75L141.30,1587.75Z"/><path d="M158.48,1554.35L165.48,1567.75L151.48,1567.75Z"/><path d="M168.66,1509.35L175.66,1522.75L161.66,1522.75Z"/><path d="M178.84,1480.60L185.84,1494.00L171.84,1494.00Z"/><path d="M189.02,1454.35L196.02,1467.75L182.02,1467.75Z"/><path d="M199.20,1428.10L206.20,1441.50L192.20,1441.50Z"/><path d="M209.38,1416.85L216.38,1430.25L202.38,1430.25Z"/><path d="M219.56,1404.35L226.56,1417.75L212.56,1417.75Z"/><path d="M229.74,1393.10L236.74,1406.50L222.74,1406.50Z"/><path d="M239.92,1384.35L246.92,1397.75L232.92,1397.75Z"/><path d="M250.10,1377.60L257.10,1391.00L243.10,1391.00Z"/><path d="M260.28,1375.10L267.28,1388.50L253.28,1388.50Z"/><path d="M270.46,1375.60L277.46,1389.00L263.46,1389.00Z"/><path d="M280.64,1384.35L287.64,1397.75L273.64,1397.75Z"/><path d="M290.82,1404.35L297.82,1417.75L283.82,1417.75Z"/><path d="M301.00,1417.60L308.00,1431.00L294.00,1431.00Z"/><path d="M311.18,1438.60L318.18,1452.00L304.18,1452.00Z"/><path d="M321.36,1455.10L328.36,1468.50L314.36,1468.50Z"/><path d="M331.54,1479.35L338.54,1492.75L324.54,1492.75Z"/><path d="M341.72,1495.60L348.72,1509.00L334.72,1509.00Z"/><path d="M351.90,1518.10L358.90,1531.50L344.90,1531.50Z"/><path d="M362.08,1546.10L369.08,1559.50L355.08,1559.50Z"/><path d="M372.26,1568.60L379.26,1582.00L365.26,1582.00Z"/><path d="M382.44,1536.85L389.44,1550.25L375.44,1550.25Z"/><path d="M392.62,1368.38L399.62,1381.78L385.62,1381.78Z"/><path d="M402.80,1312.08L409.80,1325.48L395.80,1325.48Z"/><path d="M412.98,1305.38L419.98,1318.78L405.98,1318.78Z"/><path d="M423.16,1296.00L430.16,1309.40L416.16,1309.40Z"/><path d="M433.34,1292.78L440.34,1306.18L426.34,1306.18Z"/><path d="M443.52,1290.63L450.52,1304.03L436.52,1304.03Z"/><path d="M453.70,1289.29L460.70,1302.69L446.70,1302.69Z"/><path d="M463.88,1296.00L470.88,1309.40L456.88,1309.40Z"/><path d="M474.06,1299.21L481.06,1312.61L467.06,1312.61Z"/><path d="M484.24,1301.36L491.24,1314.76L477.24,1314.76Z"/><path d="M494.42,1305.38L501.42,1318.78L487.42,1318.78Z"/><path d="M504.60,1314.76L511.60,1328.16L497.60,1328.16Z"/><path d="M514.78,1324.15L521.78,1337.55L507.78,1337.55Z"/><path d="M524.96,1321.46L531.96,1334.86L517.96,1334.86Z"/><path d="M535.14,1321.46L542.14,1334.86L528.14,1334.86Z"/><path d="M545.32,1315.30L552.32,1328.70L538.32,1328.70Z"/><path d="M555.50,1320.12L562.50,1333.52L548.50,1333.52Z"/><path d="M565.68,1324.95L572.68,1338.35L558.68,1338.35Z"/><path d="M575.86,1334.87L582.86,1348.27L568.86,1348.27Z"/><path d="M586.04,1340.23L593.04,1353.63L579.04,1353.63Z"/><path d="M596.22,1356.32L603.22,1369.72L589.22,1369.72Z"/><path d="M606.40,1368.38L613.40,1381.78L599.40,1381.78Z"/><path d="M616.58,1375.08L623.58,1388.48L609.58,1388.48Z"/><path d="M626.76,1527.90L633.76,1541.30L619.76,1541.30Z"/></g>
<text x="153.75" y="1649.45" font-size="31.5" text-anchor="end" textLength="111.00" lengthAdjust="spacingAndGlyphs" transform="rotate(-30 153.75 1649.45)">6:30 AM</text>
<text x="276.00" y="1649.45" font-size="31.5" text-anchor="end" textLength="125.00" lengthAdjust="spacingAndGlyphs" transform="rotate(-30 276.00 1649.45)">12:30 PM</text>
<text x="399.50" y="1649.45" font-size="31.5" text-anchor="end" textLength="111.00" lengthAdjust="spacingAndGlyphs" transform="rotate(-30 399.50 1649.45)">6:30 PM</text>
<text x="520.20" y="1649.45" font-size="31.5" text-anchor="end" textLength="125.00" lengthAdjust="spacingAndGlyphs" transform="rotate(-30 520.20 1649.45)">12:30 AM</text>
<text x="642.50" y="1649.45" font-size="31.5" text-anchor="end" textLength="111.00" lengthAdjust="spacingAndGlyphs" transform="rotate(-30 642.50 1649.45)">6:30 AM</text>
<text x="33.80" y="1599.20" font-size="34" text-anchor="start" textLength="284.10" lengthAdjust="spacingAndGlyphs" transform="rotate(-90 33.80 1599.20)">Proportion of sleep</text>
<text x="195.40" y="1228.50" font-size="33" text-anchor="start" textLength="348.85" lengthAdjust="spacingAndGlyphs">Long sleeper replicate 1</text>
<line x1="154.7" y1="1873.1" x2="154.7" y2="2195.25" stroke="#111111" stroke-width="2.6"/>
<text x="126.20" y="1883.90" font-size="31" text-anchor="end">1</text>
<text x="126.20" y="1949.15" font-size="31" text-anchor="end">0.8</text>
<text x="126.20" y="2014.40" font-size="31" text-anchor="end">0.6</text>
<text x="126.20" y="2079.65" font-size="31" text-anchor="end">0.4</text>
<text x="126.20" y="2144.90" font-size="31" text-anchor="end">0.2</text>
<text x="126.20" y="2210.15" font-size="31" text-anchor="end">0</text>
<rect x="154.25" y="2196.75" width="491.25" height="18.25" fill="#fff" stroke="#111111" stroke-width="3.0"/>
<rect x="393.00" y="2195.25" width="254.00" height="21.25" fill="#111111"/>
<polyline points="154.50,2165.50 164.68,2143.75 174.86,2130.00 185.04,2114.50 195.22,2090.50 205.40,2077.00 215.58,2063.00 225.76,2048.00 235.94,2053.00 246.12,2040.50 256.30,2039.50 266.48,2023.75 276.66,2038.00 286.84,2043.75 297.02,2053.75 307.20,2067.00 317.38,2079.50 327.56,2091.25 337.74,2101.25 347.92,2120.00 358.10,2141.25 368.28,2157.50 378.46,2167.50 388.64,2173.00 398.82,2130.00 409.00,2072.50 419.18,2028.75 429.36,2020.50 439.54,2001.25 449.72,1960.50 459.90,1962.00 470.08,1952.50 480.26,1948.75 490.44,1953.00 500.62,1964.50 510.80,1988.75 520.98,1990.00 531.16,1995.50 541.34,1998.00 551.52,2005.50 561.70,2004.50 571.88,2015.00 582.06,2032.00 592.24,2048.75 602.42,2061.25 612.60,2060.00 622.78,2070.50 632.96,2152.50" fill="none" stroke="#7030A0" stroke-width="2.8" stroke-linejoin="round"/>
<g fill="#7030A0"><circle cx="154.50" cy="2165.50" r="6.60"/><circle cx="164.68" cy="2143.75" r="6.60"/><circle cx="174.86" cy="2130.00" r="6.60"/><circle cx="185.04" cy="2114.50" r="6.60"/><circle cx="195.22" cy="2090.50" r="6.60"/><circle cx="205.40" cy="2077.00" r="6.60"/><circle cx="215.58" cy="2063.00" r="6.60"/><circle cx="225.76" cy="2048.00" r="6.60"/><circle cx="235.94" cy="2053.00" r="6.60"/><circle cx="246.12" cy="2040.50" r="6.60"/><circle cx="256.30" cy="2039.50" r="6.60"/><circle cx="266.48" cy="2023.75" r="6.60"/><circle cx="276.66" cy="2038.00" r="6.60"/><circle cx="286.84" cy="2043.75" r="6.60"/><circle cx="297.02" cy="2053.75" r="6.60"/><circle cx="307.20" cy="2067.00" r="6.60"/><circle cx="317.38" cy="2079.50" r="6.60"/><circle cx="327.56" cy="2091.25" r="6.60"/><circle cx="337.74" cy="2101.25" r="6.60"/><circle cx="347.92" cy="2120.00" r="6.60"/><circle cx="358.10" cy="2141.25" r="6.60"/><circle cx="368.28" cy="2157.50" r="6.60"/><circle cx="378.46" cy="2167.50" r="6.60"/><circle cx="388.64" cy="2173.00" r="6.60"/><circle cx="398.82" cy="2130.00" r="6.60"/><circle cx="409.00" cy="2072.50" r="6.60"/><circle cx="419.18" cy="2028.75" r="6.60"/><circle cx="429.36" cy="2020.50" r="6.60"/><circle cx="439.54" cy="2001.25" r="6.60"/><circle cx="449.72" cy="1960.50" r="6.60"/><circle cx="459.90" cy="1962.00" r="6.60"/><circle cx="470.08" cy="1952.50" r="6.60"/><circle cx="480.26" cy="1948.75" r="6.60"/><circle cx="490.44" cy="1953.00" r="6.60"/><circle cx="500.62" cy="1964.50" r="6.60"/><circle cx="510.80" cy="1988.75" r="6.60"/><circle cx="520.98" cy="1990.00" r="6.60"/><circle cx="531.16" cy="1995.50" r="6.60"/><circle cx="541.34" cy="1998.00" r="6.60"/><circle cx="551.52" cy="2005.50" r="6.60"/><circle cx="561.70" cy="2004.50" r="6.60"/><circle cx="571.88" cy="2015.00" r="6.60"/><circle cx="582.06" cy="2032.00" r="6.60"/><circle cx="592.24" cy="2048.75" r="6.60"/><circle cx="602.42" cy="2061.25" r="6.60"/><circle cx="612.60" cy="2060.00" r="6.60"/><circle cx="622.78" cy="2070.50" r="6.60"/><circle cx="632.96" cy="2152.50" r="6.60"/></g>
<polyline points="154.50,2175.00 164.68,2150.50 174.86,2116.25 185.04,2076.25 195.22,2053.75 205.40,2030.00 215.58,2021.25 225.76,2010.00 235.94,1992.50 246.12,1986.25 256.30,1978.75 266.48,1977.50 276.66,1983.75 286.84,1988.00 297.02,1993.00 307.20,2016.25 317.38,2042.00 327.56,2060.00 337.74,2076.25 347.92,2098.75 358.10,2133.75 368.28,2152.50 378.46,2169.50 388.64,2030.00 398.82,1896.25 409.00,1887.50 419.18,1886.25 429.36,1883.75 439.54,1881.25 449.72,1881.25 459.90,1882.50 470.08,1885.00 480.26,1883.75 490.44,1886.25 500.62,1887.00 510.80,1892.50 520.98,1886.25 531.16,1888.75 541.34,1891.25 551.52,1890.00 561.70,1892.00 571.88,1915.00 582.06,1898.00 592.24,1899.50 602.42,1906.25 612.60,1909.50 622.78,1933.75 632.96,2167.00" fill="none" stroke="#861F96" stroke-width="2.8" stroke-linejoin="round"/>
<g fill="#861F96"><rect x="147.80" y="2168.30" width="13.4" height="13.4" rx="1.2"/><rect x="157.98" y="2143.80" width="13.4" height="13.4" rx="1.2"/><rect x="168.16" y="2109.55" width="13.4" height="13.4" rx="1.2"/><rect x="178.34" y="2069.55" width="13.4" height="13.4" rx="1.2"/><rect x="188.52" y="2047.05" width="13.4" height="13.4" rx="1.2"/><rect x="198.70" y="2023.30" width="13.4" height="13.4" rx="1.2"/><rect x="208.88" y="2014.55" width="13.4" height="13.4" rx="1.2"/><rect x="219.06" y="2003.30" width="13.4" height="13.4" rx="1.2"/><rect x="229.24" y="1985.80" width="13.4" height="13.4" rx="1.2"/><rect x="239.42" y="1979.55" width="13.4" height="13.4" rx="1.2"/><rect x="249.60" y="1972.05" width="13.4" height="13.4" rx="1.2"/><rect x="259.78" y="1970.80" width="13.4" height="13.4" rx="1.2"/><rect x="269.96" y="1977.05" width="13.4" height="13.4" rx="1.2"/><rect x="280.14" y="1981.30" width="13.4" height="13.4" rx="1.2"/><rect x="290.32" y="1986.30" width="13.4" height="13.4" rx="1.2"/><rect x="300.50" y="2009.55" width="13.4" height="13.4" rx="1.2"/><rect x="310.68" y="2035.30" width="13.4" height="13.4" rx="1.2"/><rect x="320.86" y="2053.30" width="13.4" height="13.4" rx="1.2"/><rect x="331.04" y="2069.55" width="13.4" height="13.4" rx="1.2"/><rect x="341.22" y="2092.05" width="13.4" height="13.4" rx="1.2"/><rect x="351.40" y="2127.05" width="13.4" height="13.4" rx="1.2"/><rect x="361.58" y="2145.80" width="13.4" height="13.4" rx="1.2"/><rect x="371.76" y="2162.80" width="13.4" height="13.4" rx="1.2"/><rect x="381.94" y="2023.30" width="13.4" height="13.4" rx="1.2"/><rect x="392.12" y="1889.55" width="13.4" height="13.4" rx="1.2"/><rect x="402.30" y="1880.80" width="13.4" height="13.4" rx="1.2"/><rect x="412.48" y="1879.55" width="13.4" height="13.4" rx="1.2"/><rect x="422.66" y="1877.05" width="13.4" height="13.4" rx="1.2"/><rect x="432.84" y="1874.55" width="13.4" height="13.4" rx="1.2"/><rect x="443.02" y="1874.55" width="13.4" height="13.4" rx="1.2"/><rect x="453.20" y="1875.80" width="13.4" height="13.4" rx="1.2"/><rect x="463.38" y="1878.30" width="13.4" height="13.4" rx="1.2"/><rect x="473.56" y="1877.05" width="13.4" height="13.4" rx="1.2"/><rect x="483.74" y="1879.55" width="13.4" height="13.4" rx="1.2"/><rect x="493.92" y="1880.30" width="13.4" height="13.4" rx="1.2"/><rect x="504.10" y="1885.80" width="13.4" height="13.4" rx="1.2"/><rect x="514.28" y="1879.55" width="13.4" height="13.4" rx="1.2"/><rect x="524.46" y="1882.05" width="13.4" height="13.4" rx="1.2"/><rect x="534.64" y="1884.55" width="13.4" height="13.4" rx="1.2"/><rect x="544.82" y="1883.30" width="13.4" height="13.4" rx="1.2"/><rect x="555.00" y="1885.30" width="13.4" height="13.4" rx="1.2"/><rect x="565.18" y="1908.30" width="13.4" height="13.4" rx="1.2"/><rect x="575.36" y="1891.30" width="13.4" height="13.4" rx="1.2"/><rect x="585.54" y="1892.80" width="13.4" height="13.4" rx="1.2"/><rect x="595.72" y="1899.55" width="13.4" height="13.4" rx="1.2"/><rect x="605.90" y="1902.80" width="13.4" height="13.4" rx="1.2"/><rect x="616.08" y="1927.05" width="13.4" height="13.4" rx="1.2"/><rect x="626.26" y="2160.30" width="13.4" height="13.4" rx="1.2"/></g>
<polyline points="154.50,2156.25 164.68,2117.50 174.86,2087.00 185.04,2055.00 195.22,2048.75 205.40,2042.50 215.58,2031.25 225.76,2032.50 235.94,2046.25 246.12,2031.25 256.30,2020.00 266.48,2026.25 276.66,2025.50 286.84,2021.25 297.02,2032.50 307.20,2039.50 317.38,2048.00 327.56,2060.00 337.74,2075.00 347.92,2088.75 358.10,2123.75 368.28,2152.50 378.46,2166.25 388.64,2086.25 398.82,1951.25 409.00,1922.50 419.18,1913.75 429.36,1908.75 439.54,1920.00 449.72,1913.75 459.90,1920.00 470.08,1922.50 480.26,1921.25 490.44,1922.50 500.62,1926.25 510.80,1933.75 520.98,1931.25 531.16,1932.50 541.34,1925.50 551.52,1924.50 561.70,1918.75 571.88,1918.75 582.06,1931.25 592.24,1936.25 602.42,1939.50 612.60,1935.00 622.78,1946.25 632.96,2163.75" fill="none" stroke="#6A9E23" stroke-width="2.8" stroke-linejoin="round"/>
<g fill="#6A9E23"><path d="M154.50,2149.35L161.50,2162.75L147.50,2162.75Z"/><path d="M164.68,2110.60L171.68,2124.00L157.68,2124.00Z"/><path d="M174.86,2080.10L181.86,2093.50L167.86,2093.50Z"/><path d="M185.04,2048.10L192.04,2061.50L178.04,2061.50Z"/><path d="M195.22,2041.85L202.22,2055.25L188.22,2055.25Z"/><path d="M205.40,2035.60L212.40,2049.00L198.40,2049.00Z"/><path d="M215.58,2024.35L222.58,2037.75L208.58,2037.75Z"/><path d="M225.76,2025.60L232.76,2039.00L218.76,2039.00Z"/><path d="M235.94,2039.35L242.94,2052.75L228.94,2052.75Z"/><path d="M246.12,2024.35L253.12,2037.75L239.12,2037.75Z"/><path d="M256.30,2013.10L263.30,2026.50L249.30,2026.50Z"/><path d="M266.48,2019.35L273.48,2032.75L259.48,2032.75Z"/><path d="M276.66,2018.60L283.66,2032.00L269.66,2032.00Z"/><path d="M286.84,2014.35L293.84,2027.75L279.84,2027.75Z"/><path d="M297.02,2025.60L304.02,2039.00L290.02,2039.00Z"/><path d="M307.20,2032.60L314.20,2046.00L300.20,2046.00Z"/><path d="M317.38,2041.10L324.38,2054.50L310.38,2054.50Z"/><path d="M327.56,2053.10L334.56,2066.50L320.56,2066.50Z"/><path d="M337.74,2068.10L344.74,2081.50L330.74,2081.50Z"/><path d="M347.92,2081.85L354.92,2095.25L340.92,2095.25Z"/><path d="M358.10,2116.85L365.10,2130.25L351.10,2130.25Z"/><path d="M368.28,2145.60L375.28,2159.00L361.28,2159.00Z"/><path d="M378.46,2159.35L385.46,2172.75L371.46,2172.75Z"/><path d="M388.64,2079.35L395.64,2092.75L381.64,2092.75Z"/><path d="M398.82,1944.35L405.82,1957.75L391.82,1957.75Z"/><path d="M409.00,1915.60L416.00,1929.00L402.00,1929.00Z"/><path d="M419.18,1906.85L426.18,1920.25L412.18,1920.25Z"/><path d="M429.36,1901.85L436.36,1915.25L422.36,1915.25Z"/><path d="M439.54,1913.10L446.54,1926.50L432.54,1926.50Z"/><path d="M449.72,1906.85L456.72,1920.25L442.72,1920.25Z"/><path d="M459.90,1913.10L466.90,1926.50L452.90,1926.50Z"/><path d="M470.08,1915.60L477.08,1929.00L463.08,1929.00Z"/><path d="M480.26,1914.35L487.26,1927.75L473.26,1927.75Z"/><path d="M490.44,1915.60L497.44,1929.00L483.44,1929.00Z"/><path d="M500.62,1919.35L507.62,1932.75L493.62,1932.75Z"/><path d="M510.80,1926.85L517.80,1940.25L503.80,1940.25Z"/><path d="M520.98,1924.35L527.98,1937.75L513.98,1937.75Z"/><path d="M531.16,1925.60L538.16,1939.00L524.16,1939.00Z"/><path d="M541.34,1918.60L548.34,1932.00L534.34,1932.00Z"/><path d="M551.52,1917.60L558.52,1931.00L544.52,1931.00Z"/><path d="M561.70,1911.85L568.70,1925.25L554.70,1925.25Z"/><path d="M571.88,1911.85L578.88,1925.25L564.88,1925.25Z"/><path d="M582.06,1924.35L589.06,1937.75L575.06,1937.75Z"/><path d="M592.24,1929.35L599.24,1942.75L585.24,1942.75Z"/><path d="M602.42,1932.60L609.42,1946.00L595.42,1946.00Z"/><path d="M612.60,1928.10L619.60,1941.50L605.60,1941.50Z"/><path d="M622.78,1939.35L629.78,1952.75L615.78,1952.75Z"/><path d="M632.96,2156.85L639.96,2170.25L625.96,2170.25Z"/></g>
<text x="160.00" y="2249.45" font-size="31.5" text-anchor="end" textLength="111.00" lengthAdjust="spacingAndGlyphs" transform="rotate(-30 160.00 2249.45)">6:30 AM</text>
<text x="281.50" y="2249.45" font-size="31.5" text-anchor="end" textLength="125.00" lengthAdjust="spacingAndGlyphs" transform="rotate(-30 281.50 2249.45)">12:30 PM</text>
<text x="405.50" y="2249.45" font-size="31.5" text-anchor="end" textLength="111.00" lengthAdjust="spacingAndGlyphs" transform="rotate(-30 405.50 2249.45)">6:30 PM</text>
<text x="526.00" y="2249.45" font-size="31.5" text-anchor="end" textLength="125.00" lengthAdjust="spacingAndGlyphs" transform="rotate(-30 526.00 2249.45)">12:30 AM</text>
<text x="648.50" y="2249.45" font-size="31.5" text-anchor="end" textLength="111.00" lengthAdjust="spacingAndGlyphs" transform="rotate(-30 648.50 2249.45)">6:30 AM</text>
<text x="50.30" y="2214.30" font-size="34" text-anchor="start" textLength="284.00" lengthAdjust="spacingAndGlyphs" transform="rotate(-90 50.30 2214.30)">Proportion of sleep</text>
<text x="195.40" y="1840.00" font-size="33" text-anchor="start" textLength="348.85" lengthAdjust="spacingAndGlyphs">Long sleeper replicate 2</text>
<line x1="785" y1="90.9" x2="785" y2="475" stroke="#111111" stroke-width="2.6"/>
<text x="756.20" y="101.50" font-size="31" text-anchor="end">800</text>
<text x="756.20" y="149.57" font-size="31" text-anchor="end">700</text>
<text x="756.20" y="197.64" font-size="31" text-anchor="end">600</text>
<text x="756.20" y="245.71" font-size="31" text-anchor="end">500</text>
<text x="756.20" y="293.78" font-size="31" text-anchor="end">400</text>
<text x="756.20" y="341.85" font-size="31" text-anchor="end">300</text>
<text x="756.20" y="389.92" font-size="31" text-anchor="end">200</text>
<text x="756.20" y="437.99" font-size="31" text-anchor="end">100</text>
<text x="756.20" y="486.06" font-size="31" text-anchor="end">0</text>
<rect x="815.60" y="229.30" width="28.00" height="245.70" fill="#7030A0" stroke="#111111" stroke-width="2.6"/>
<rect x="851.80" y="421.50" width="27.70" height="53.50" fill="#861F96" stroke="#111111" stroke-width="2.6"/>
<rect x="887.60" y="237.30" width="28.00" height="237.70" fill="#6A9E23" stroke="#111111" stroke-width="2.6"/>
<rect x="978.00" y="333.50" width="27.40" height="141.50" fill="#7030A0" stroke="#111111" stroke-width="2.6"/>
<rect x="1013.70" y="399.60" width="27.30" height="75.40" fill="#861F96" stroke="#111111" stroke-width="2.6"/>
<rect x="1049.90" y="311.30" width="27.30" height="163.70" fill="#6A9E23" stroke="#111111" stroke-width="2.6"/>
<line x1="783.7" y1="475" x2="1108.4" y2="475" stroke="#111111" stroke-width="3"/>
<path d="M821.40,224.40H837.80M821.40,233.70H837.80M829.60,224.40V233.70" stroke="#111111" stroke-width="2.6" fill="none"/>
<path d="M857.45,416.30H873.85M857.45,426.80H873.85M865.65,416.30V426.80" stroke="#111111" stroke-width="2.6" fill="none"/>
<path d="M893.40,233.50H909.80M893.40,240.40H909.80M901.60,233.50V240.40" stroke="#111111" stroke-width="2.6" fill="none"/>
<path d="M983.50,327.60H999.90M983.50,339.00H999.90M991.70,327.60V339.00" stroke="#111111" stroke-width="2.6" fill="none"/>
<path d="M1019.15,393.50H1035.55M1019.15,404.90H1035.55M1027.35,393.50V404.90" stroke="#111111" stroke-width="2.6" fill="none"/>
<path d="M1055.35,307.00H1071.75M1055.35,314.20H1071.75M1063.55,307.00V314.20" stroke="#111111" stroke-width="2.6" fill="none"/>
<text x="829.90" y="213.60" font-size="31" text-anchor="middle">A</text>
<text x="866.50" y="404.00" font-size="31" text-anchor="middle">B</text>
<text x="902.20" y="223.50" font-size="31" text-anchor="middle">A</text>
<text x="990.00" y="321.00" font-size="31" text-anchor="middle">a</text>
<text x="1029.20" y="385.30" font-size="31" text-anchor="middle">b</text>
<text x="1060.10" y="298.30" font-size="31" text-anchor="middle">c</text>
<text x="828.80" y="527.40" font-size="30" text-anchor="start" textLength="72.80" lengthAdjust="spacingAndGlyphs">Night</text>
<text x="1002.40" y="527.40" font-size="30" text-anchor="start" textLength="50.40" lengthAdjust="spacingAndGlyphs">Day</text>
<text x="675.00" y="365.20" font-size="34" text-anchor="start" textLength="175.60" lengthAdjust="spacingAndGlyphs" transform="rotate(-90 675.00 365.20)">Sleep (min.)</text>
<line x1="785" y1="676.7" x2="785" y2="1061" stroke="#111111" stroke-width="2.6"/>
<text x="756.20" y="687.80" font-size="31" text-anchor="end">800</text>
<text x="756.20" y="735.85" font-size="31" text-anchor="end">700</text>
<text x="756.20" y="783.90" font-size="31" text-anchor="end">600</text>
<text x="756.20" y="831.95" font-size="31" text-anchor="end">500</text>
<text x="756.20" y="880.00" font-size="31" text-anchor="end">400</text>
<text x="756.20" y="928.05" font-size="31" text-anchor="end">300</text>
<text x="756.20" y="976.10" font-size="31" text-anchor="end">200</text>
<text x="756.20" y="1024.15" font-size="31" text-anchor="end">100</text>
<text x="756.20" y="1072.20" font-size="31" text-anchor="end">0</text>
<rect x="815.60" y="827.40" width="28.00" height="233.60" fill="#7030A0" stroke="#111111" stroke-width="2.6"/>
<rect x="851.80" y="1035.20" width="27.70" height="25.80" fill="#861F96" stroke="#111111" stroke-width="2.6"/>
<rect x="887.60" y="920.30" width="28.00" height="140.70" fill="#6A9E23" stroke="#111111" stroke-width="2.6"/>
<rect x="978.00" y="912.60" width="27.40" height="148.40" fill="#7030A0" stroke="#111111" stroke-width="2.6"/>
<rect x="1013.70" y="1003.30" width="27.30" height="57.70" fill="#861F96" stroke="#111111" stroke-width="2.6"/>
<rect x="1049.90" y="984.40" width="27.30" height="76.60" fill="#6A9E23" stroke="#111111" stroke-width="2.6"/>
<line x1="783.7" y1="1061" x2="1108.4" y2="1061" stroke="#111111" stroke-width="3"/>
<path d="M821.40,822.00H837.80M821.40,832.40H837.80M829.60,822.00V832.40" stroke="#111111" stroke-width="2.6" fill="none"/>
<rect x="857.45" y="1030.60" width="16.4" height="8.00" fill="#111111"/>
<path d="M893.40,913.60H909.80M893.40,924.10H909.80M901.60,913.60V924.10" stroke="#111111" stroke-width="2.6" fill="none"/>
<path d="M983.50,906.50H999.90M983.50,916.40H999.90M991.70,906.50V916.40" stroke="#111111" stroke-width="2.6" fill="none"/>
<path d="M1019.15,998.80H1035.55M1019.15,1006.80H1035.55M1027.35,998.80V1006.80" stroke="#111111" stroke-width="2.6" fill="none"/>
<path d="M1055.35,979.70H1071.75M1055.35,986.90H1071.75M1063.55,979.70V986.90" stroke="#111111" stroke-width="2.6" fill="none"/>
<text x="829.40" y="815.20" font-size="31" text-anchor="middle">A</text>
<text x="866.30" y="1019.60" font-size="31" text-anchor="middle">B</text>
<text x="902.00" y="907.00" font-size="31" text-anchor="middle">C</text>
<text x="990.30" y="896.30" font-size="31" text-anchor="middle">a</text>
<text x="1025.90" y="989.60" font-size="31" text-anchor="middle">b</text>
<text x="1060.10" y="970.40" font-size="31" text-anchor="middle">c</text>
<text x="828.80" y="1113.00" font-size="30" text-anchor="start" textLength="72.80" lengthAdjust="spacingAndGlyphs">Night</text>
<text x="1002.40" y="1113.00" font-size="30" text-anchor="start" textLength="50.40" lengthAdjust="spacingAndGlyphs">Day</text>
<text x="675.00" y="953.60" font-size="34" text-anchor="start" textLength="175.60" lengthAdjust="spacingAndGlyphs" transform="rotate(-90 675.00 953.60)">Sleep (min.)</text>
<line x1="793.8" y1="1242.8" x2="793.8" y2="1627" stroke="#111111" stroke-width="2.6"/>
<text x="765.60" y="1253.80" font-size="31" text-anchor="end">800</text>
<text x="765.60" y="1301.80" font-size="31" text-anchor="end">700</text>
<text x="765.60" y="1349.80" font-size="31" text-anchor="end">600</text>
<text x="765.60" y="1397.80" font-size="31" text-anchor="end">500</text>
<text x="765.60" y="1445.80" font-size="31" text-anchor="end">400</text>
<text x="765.60" y="1493.80" font-size="31" text-anchor="end">300</text>
<text x="765.60" y="1541.80" font-size="31" text-anchor="end">200</text>
<text x="765.60" y="1589.80" font-size="31" text-anchor="end">100</text>
<text x="765.60" y="1637.80" font-size="31" text-anchor="end">0</text>
<rect x="825.00" y="1401.30" width="27.30" height="225.70" fill="#7030A0" stroke="#111111" stroke-width="2.6"/>
<rect x="861.30" y="1298.20" width="27.20" height="328.80" fill="#861F96" stroke="#111111" stroke-width="2.6"/>
<rect x="896.80" y="1328.70" width="27.30" height="298.30" fill="#6A9E23" stroke="#111111" stroke-width="2.6"/>
<rect x="987.20" y="1486.50" width="26.70" height="140.50" fill="#7030A0" stroke="#111111" stroke-width="2.6"/>
<rect x="1023.10" y="1440.90" width="27.00" height="186.10" fill="#861F96" stroke="#111111" stroke-width="2.6"/>
<rect x="1059.30" y="1437.80" width="26.70" height="189.20" fill="#6A9E23" stroke="#111111" stroke-width="2.6"/>
<line x1="792.5" y1="1627" x2="1117.8" y2="1627" stroke="#111111" stroke-width="3"/>
<path d="M830.45,1395.40H846.85M830.45,1405.30H846.85M838.65,1395.40V1405.30" stroke="#111111" stroke-width="2.6" fill="none"/>
<rect x="866.70" y="1295.10" width="16.4" height="6.20" fill="#111111"/>
<rect x="902.25" y="1325.20" width="16.4" height="7.50" fill="#111111"/>
<path d="M992.35,1481.00H1008.75M992.35,1489.50H1008.75M1000.55,1481.00V1489.50" stroke="#111111" stroke-width="2.6" fill="none"/>
<path d="M1028.40,1433.90H1044.80M1028.40,1446.70H1044.80M1036.60,1433.90V1446.70" stroke="#111111" stroke-width="2.6" fill="none"/>
<path d="M1064.45,1432.50H1080.85M1064.45,1441.00H1080.85M1072.65,1432.50V1441.00" stroke="#111111" stroke-width="2.6" fill="none"/>
<text x="840.70" y="1385.40" font-size="31" text-anchor="middle">A</text>
<text x="873.10" y="1287.10" font-size="31" text-anchor="middle">B</text>
<text x="909.70" y="1319.60" font-size="31" text-anchor="middle">C</text>
<text x="1000.60" y="1473.60" font-size="31" text-anchor="middle">a</text>
<text x="1037.00" y="1424.80" font-size="31" text-anchor="middle">b</text>
<text x="1072.60" y="1423.90" font-size="31" text-anchor="middle">b</text>
<text x="838.70" y="1679.00" font-size="30" text-anchor="start" textLength="72.30" lengthAdjust="spacingAndGlyphs">Night</text>
<text x="1011.50" y="1679.00" font-size="30" text-anchor="start" textLength="50.70" lengthAdjust="spacingAndGlyphs">Day</text>
<text x="694.10" y="1515.90" font-size="34" text-anchor="start" textLength="175.60" lengthAdjust="spacingAndGlyphs" transform="rotate(-90 694.10 1515.90)">Sleep (min.)</text>
<line x1="793.8" y1="1821.4" x2="793.8" y2="2205" stroke="#111111" stroke-width="2.6"/>
<text x="765.60" y="1832.10" font-size="31" text-anchor="end">800</text>
<text x="765.60" y="1879.95" font-size="31" text-anchor="end">700</text>
<text x="765.60" y="1927.80" font-size="31" text-anchor="end">600</text>
<text x="765.60" y="1975.65" font-size="31" text-anchor="end">500</text>
<text x="765.60" y="2023.50" font-size="31" text-anchor="end">400</text>
<text x="765.60" y="2071.35" font-size="31" text-anchor="end">300</text>
<text x="765.60" y="2119.20" font-size="31" text-anchor="end">200</text>
<text x="765.60" y="2167.05" font-size="31" text-anchor="end">100</text>
<text x="765.60" y="2214.90" font-size="31" text-anchor="end">0</text>
<rect x="825.00" y="1985.30" width="27.30" height="219.70" fill="#7030A0" stroke="#111111" stroke-width="2.6"/>
<rect x="861.30" y="1879.90" width="27.20" height="325.10" fill="#861F96" stroke="#111111" stroke-width="2.6"/>
<rect x="896.80" y="1898.70" width="27.30" height="306.30" fill="#6A9E23" stroke="#111111" stroke-width="2.6"/>
<rect x="987.20" y="2059.30" width="26.70" height="145.70" fill="#7030A0" stroke="#111111" stroke-width="2.6"/>
<rect x="1023.10" y="2022.90" width="27.00" height="182.10" fill="#861F96" stroke="#111111" stroke-width="2.6"/>
<rect x="1059.30" y="2014.30" width="26.70" height="190.70" fill="#6A9E23" stroke="#111111" stroke-width="2.6"/>
<line x1="792.5" y1="2205" x2="1117.8" y2="2205" stroke="#111111" stroke-width="3"/>
<path d="M830.45,1979.70H846.85M830.45,1989.80H846.85M838.65,1979.70V1989.80" stroke="#111111" stroke-width="2.6" fill="none"/>
<rect x="866.70" y="1876.50" width="16.4" height="6.00" fill="#111111"/>
<rect x="902.25" y="1894.20" width="16.4" height="8.30" fill="#111111"/>
<path d="M992.35,2053.20H1008.75M992.35,2062.90H1008.75M1000.55,2053.20V2062.90" stroke="#111111" stroke-width="2.6" fill="none"/>
<path d="M1028.40,2016.70H1044.80M1028.40,2026.70H1044.80M1036.60,2016.70V2026.70" stroke="#111111" stroke-width="2.6" fill="none"/>
<path d="M1064.45,2008.80H1080.85M1064.45,2018.20H1080.85M1072.65,2008.80V2018.20" stroke="#111111" stroke-width="2.6" fill="none"/>
<text x="837.00" y="1968.80" font-size="31" text-anchor="middle">A</text>
<text x="873.10" y="1862.80" font-size="31" text-anchor="middle">B</text>
<text x="909.70" y="1887.60" font-size="31" text-anchor="middle">C</text>
<text x="997.90" y="2045.60" font-size="31" text-anchor="middle">a</text>
<text x="1037.00" y="2004.80" font-size="31" text-anchor="middle">b</text>
<text x="1072.60" y="1998.20" font-size="31" text-anchor="middle">b</text>
<text x="838.70" y="2257.60" font-size="30" text-anchor="start" textLength="72.30" lengthAdjust="spacingAndGlyphs">Night</text>
<text x="1011.50" y="2257.60" font-size="30" text-anchor="start" textLength="50.70" lengthAdjust="spacingAndGlyphs">Day</text>
<text x="694.10" y="2076.10" font-size="34" text-anchor="start" textLength="175.60" lengthAdjust="spacingAndGlyphs" transform="rotate(-90 694.10 2076.10)">Sleep (min.)</text>
<text x="0" y="0" font-size="60" font-weight="bold" transform="translate(34.60 33.00) scale(0.871 1)">a</text>
<text x="0" y="0" font-size="61" font-weight="bold" transform="translate(33.50 632.00) scale(1.0 1)">b</text>
<text x="0" y="0" font-size="60" font-weight="bold" transform="translate(34.50 1239.50) scale(0.85 1)">c</text>
<text x="0" y="0" font-size="62.5" font-weight="bold" transform="translate(34.20 1837.50) scale(0.92 1)">d</text>
<text x="195.00" y="2425.20" font-size="32" text-anchor="start" textLength="177.60" lengthAdjust="spacingAndGlyphs">Generation:</text>
<rect x="415.50" y="2345.20" width="26" height="26" fill="#7030A0" stroke="#111111" stroke-width="1.6"/>
<text x="452.30" y="2369.90" font-size="30.5" text-anchor="start" textLength="587.10" lengthAdjust="spacingAndGlyphs">0 (starting population prior to selection)</text>
<rect x="415.50" y="2398.30" width="26" height="26" fill="#861F96" stroke="#111111" stroke-width="1.6"/>
<text x="451.30" y="2423.00" font-size="30.5" text-anchor="start" textLength="591.70" lengthAdjust="spacingAndGlyphs">13 (last generation of artificial selection)</text>
<rect x="415.50" y="2451.40" width="26" height="26" fill="#6A9E23" stroke="#111111" stroke-width="1.6"/>
<text x="452.30" y="2476.10" font-size="30.5" text-anchor="start" textLength="581.30" lengthAdjust="spacingAndGlyphs">75 (last generation of relaxed selection)</text>
</svg>
</body></html>
